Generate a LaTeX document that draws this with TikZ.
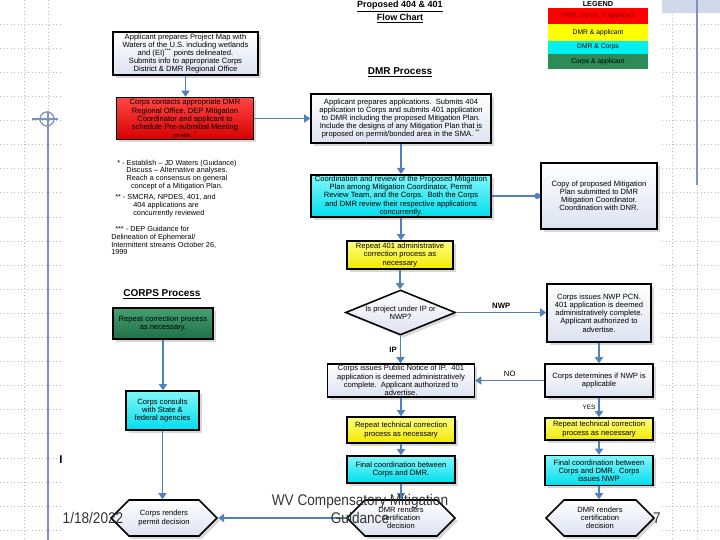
\documentclass[tikz,border=0pt]{standalone}
\usepackage{fontspec}
\setmainfont{Liberation Sans}
\usetikzlibrary{positioning,arrows.meta,shapes.geometric,shapes.symbols,shadows}
\definecolor{flowblue}{RGB}{79,129,189}
\definecolor{slideblue}{RGB}{128,144,192}
\definecolor{gridgray}{RGB}{185,185,185}
\definecolor{hatchblue}{RGB}{208,216,234}
\definecolor{paleblue}{RGB}{220,226,240}
\definecolor{redtop}{RGB}{255,70,70}
\definecolor{redbot}{RGB}{215,0,0}
\definecolor{cyantop}{RGB}{130,246,250}
\definecolor{cyanbot}{RGB}{0,222,236}
\definecolor{yeltop}{RGB}{255,255,130}
\definecolor{yelbot}{RGB}{242,232,0}
\definecolor{grntop}{RGB}{70,160,112}
\definecolor{grnbot}{RGB}{30,112,72}
\definecolor{legred}{RGB}{255,0,0}
\definecolor{legredtext}{RGB}{130,0,0}
\definecolor{legyellow}{RGB}{255,255,0}
\definecolor{legcyan}{RGB}{0,240,240}
\definecolor{leggreen}{RGB}{46,139,87}
\tikzset{
  stepbase/.style={draw=black, line width=1.1pt, align=center, inner sep=1pt,
                   font=\fontsize{5.4}{5.8}\selectfont,
                   drop shadow={shadow xshift=0.7mm, shadow yshift=-0.7mm, fill=black!30, opacity=0.5}},
  whitebox/.style={stepbase, top color=white, bottom color=paleblue},
  redbox/.style={stepbase, top color=redtop, bottom color=redbot},
  cyanbox/.style={stepbase, top color=cyantop, bottom color=cyanbot},
  yellowbox/.style={stepbase, top color=yeltop, bottom color=yelbot},
  greenbox/.style={stepbase, top color=grntop, bottom color=grnbot},
  decision/.style={whitebox, diamond, aspect=2.4, inner sep=0pt},
  hexbox/.style={whitebox, shape=signal, signal to=east and west, signal pointer angle=90, inner sep=0.5pt},
  legbox/.style={minimum width=25mm, inner sep=0pt, font=\fontsize{4.8}{5.5}\selectfont},
  headline/.style={font=\bfseries\fontsize{7.1}{8.2}\selectfont, align=center, inner sep=0pt},
  note/.style={font=\fontsize{5.2}{5.5}\selectfont, inner sep=0pt},
  flow/.style={-{Triangle[width=2mm,length=1.5mm]}, line width=1.3pt, flowblue},
  dotflow/.style={-{Circle[length=1.5mm]}, line width=1pt, flowblue},
  flowlbl/.style={font=\fontsize{5.5}{6}\selectfont, text=black, inner sep=2pt},
  gridline/.style={gridgray, dotted, line width=0.5pt},
  slideline/.style={slideblue, line width=0.9pt},
  footer/.style={font=\fontsize{11}{12.8}\selectfont, text=black!80, align=center, xscale=0.88, transform shape}
}
\begin{document}
\begin{tikzpicture}[x=0.25mm, y=-0.25mm]
\useasboundingbox (0,0) rectangle (720,540);
% slide background
\foreach \k in {1,...,22} {
  \draw[gridline] (0,24.1*\k) -- (62,24.1*\k);
  \draw[gridline] (662,24.1*\k) -- (720,24.1*\k);
}
\foreach \x in {24,48,672,697} \draw[gridline] (\x,0) -- (\x,540);
\fill[hatchblue] (662,0) rectangle (720,13);
\draw[slideline] (697,0) -- (697,185);
\draw[slideline] (48,111) -- (48,540);
\draw[slideline] (32,119) -- (58,119);
\draw[slideline] (47,119) circle[radius=7];

% headings and legend
\node[headline, font=\bfseries\fontsize{6.4}{6.5}\selectfont] (title) at (400,12) {\underline{Proposed 404 \& 401}\\\underline{Flow Chart}};
\node[headline] (dmrhead) at (400,72.5) {\underline{DMR Process}};
\node[headline] (corpshead) at (162,294) {\underline{CORPS Process}};
\node[headline, font=\bfseries\fontsize{5.2}{6}\selectfont] (legend) at (598,5) {\underline{LEGEND}};
\node[legbox, fill=legred, text=legredtext, minimum height=4mm] (legall) at (598,16) {DMR, Corps, \& applicant};
\node[legbox, fill=legyellow, minimum height=4.2mm] (legdmrapp) at (598,32.3) {DMR \& applicant};
\node[legbox, fill=legcyan, minimum height=3.35mm] (legdmrcorps) at (598,47.3) {DMR \& Corps};
\node[legbox, fill=leggreen, minimum height=3.75mm] (legcorpsapp) at (598,61.5) {Corps \& applicant};

% top steps
\node[whitebox, minimum width=36.25mm, minimum height=10.25mm] (map) at (185.5,53.5) {Applicant prepares Project Map with\\Waters of the U.S. including wetlands\\and (EI)\textsuperscript{***} points delineated.\\Submits info to appropriate Corps\\District \& DMR Regional Office};
\node[redbox, minimum width=34.25mm, minimum height=10.5mm] (presub) at (185,118.5) {Corps contacts appropriate DMR\\Regional Office, DEP Mitigation\\Coordinator and applicant to\\schedule Pre-submittal Meeting\\{\fontsize{4}{5}\selectfont on-site.~~\textsuperscript{*}}};
\node[whitebox, minimum width=45mm, minimum height=12.25mm] (apps) at (401,118.5) {Applicant prepares applications.~~Submits 404\\application to Corps and submits 401 application\\to DMR including the proposed Mitigation Plan.\\Include the designs of any Mitigation Plan that is\\proposed on permit/bonded area in the SMA.~\textsuperscript{**}};
\node[cyanbox, minimum width=45mm, minimum height=10mm] (review) at (401,196) {Coordination and review of the Proposed Mitigation\\Plan among Mitigation Coordinator, Permit\\Review Team, and the Corps.~~Both the Corps\\and DMR review their respective applications\\concurrently.};
\node[whitebox, minimum width=29mm, minimum height=16.5mm] (copy) at (599,196) {Copy of proposed Mitigation\\Plan submitted to DMR\\Mitigation Coordinator.\\Coordination with DNR.};
\node[yellowbox, minimum width=26.5mm, minimum height=7mm] (rep401) at (400,255) {Repeat 401 administrative\\correction process as\\necessary};

% notes
\node[note, align=center, anchor=north] (noteone) at (177,159.5) {* - Establish -- JD Waters (Guidance)\\Discuss -- Alternative analyses.\\Reach a consensus on general\\concept of a Mitigation Plan.};
\node[note, align=left, anchor=north west] (notetwo) at (115,194) {** - SMCRA, NPDES, 401, and\\\hspace*{4.5mm}404 applications are\\\hspace*{4.5mm}concurrently reviewed};
\node[note, align=left, anchor=north west] (notethree) at (111,226) {\hspace*{1mm}*** - DEP Guidance for\\Delineation of Ephemeral/\\Intermittent streams October 26,\\1999};

% IP / NWP branch
\node[decision, minimum width=27.5mm, minimum height=11.25mm] (project) at (400.5,312.5) {Is project under IP or\\NWP?};
\node[whitebox, minimum width=26mm, minimum height=14.5mm] (nwppcn) at (599,313) {Corps issues NWP PCN.\\401 application is deemed\\administratively complete.\\Applicant authorized to\\advertise.};
\node[whitebox, minimum width=36.75mm, minimum height=8.25mm] (ipnotice) at (401,380.5) {Corps issues Public Notice of IP.~~401\\application is deemed administratively\\complete.~~Applicant authorized to\\advertise.};
\node[whitebox, minimum width=27mm, minimum height=8.25mm] (nwpcheck) at (599,380.5) {Corps determines if NWP is\\applicable};
\node[yellowbox, minimum width=27mm, minimum height=6.5mm] (repip) at (401,430) {Repeat technical correction\\process as necessary};
\node[yellowbox, minimum width=27mm, minimum height=5.5mm] (repnwp) at (599,429) {Repeat technical correction\\process as necessary};
\node[cyanbox, minimum width=27mm, minimum height=6.75mm] (finalip) at (401,469.5) {Final coordination between\\Corps and DMR.};
\node[cyanbox, minimum width=27mm, minimum height=7.5mm] (finalnwp) at (599,470.5) {Final coordination between\\Corps and DMR.~~Corps\\issues NWP};
\node[hexbox, minimum width=27mm, minimum height=9mm] (certip) at (401,518) {DMR renders\\certification\\decision};
\node[hexbox, minimum width=27mm, minimum height=9mm] (certnwp) at (600,518) {DMR renders\\certification\\decision};

% Corps column
\node[greenbox, minimum width=25mm, minimum height=7.75mm] (corpsrep) at (163,323.5) {Repeat correction process\\as necessary.};
\node[cyanbox, minimum width=18.25mm, minimum height=9.75mm] (consult) at (162.5,410.5) {Corps consults\\with State \&\\federal agencies};
\node[hexbox, minimum width=26.5mm, minimum height=9mm] (permit) at (164,518) {Corps renders\\permit decision};

% connectors
\draw[flow] (map.south) -- (map.south |- presub.north);
\draw[flow] (presub.east) -- (presub.east -| apps.west);
\draw[flow] (apps.south) -- (apps.south |- review.north);
\draw[dotflow] (review.east) -- (review.east -| copy.west);
\draw[flow] (review.south) -- (review.south |- rep401.north);
\draw[flow] (rep401.south) -- (rep401.south |- project.north);
\draw[flow] (project.east) -- node[flowlbl, above, font=\bfseries\fontsize{5.5}{6}\selectfont] {NWP} (project.east -| nwppcn.west);
\draw[flow] (project.south) -- node[flowlbl, left, font=\bfseries\fontsize{5.5}{6}\selectfont] {IP} (project.south |- ipnotice.north);
\draw[flow] (nwppcn.south) -- (nwppcn.south |- nwpcheck.north);
\draw[flow] (nwpcheck.west) -- node[flowlbl, above] {NO} (nwpcheck.west -| ipnotice.east);
\draw[flow] (nwpcheck.south) -- node[flowlbl, left, font=\fontsize{4.5}{5}\selectfont] {YES} (nwpcheck.south |- repnwp.north);
\draw[flow] (ipnotice.south) -- (ipnotice.south |- repip.north);
\draw[flow] (repip.south) -- (repip.south |- finalip.north);
\draw[flow] (finalip.south) -- (finalip.south |- certip.north);
\draw[flow] (repnwp.south) -- (repnwp.south |- finalnwp.north);
\draw[flow] (finalnwp.south) -- (finalnwp.south |- certnwp.north);
\draw[flow] (certip.west) -- (certip.west -| permit.east);
\draw[flow] (corpsrep.south) -- (corpsrep.south |- consult.north);
\draw[flow] (consult.south) -- (consult.south |- permit.north);

% slide footer
\node[font=\bfseries\fontsize{8}{8}\selectfont, inner sep=0pt] (cursor) at (61,460) {I};
\node[footer] (date) at (93,518) {1/18/2022};
\node[footer] (foottitle) at (360,509) {WV Compensatory Mitigation\\Guidance};
\node[footer] (pagenum) at (657,518) {7};
\end{tikzpicture}
\end{document}
